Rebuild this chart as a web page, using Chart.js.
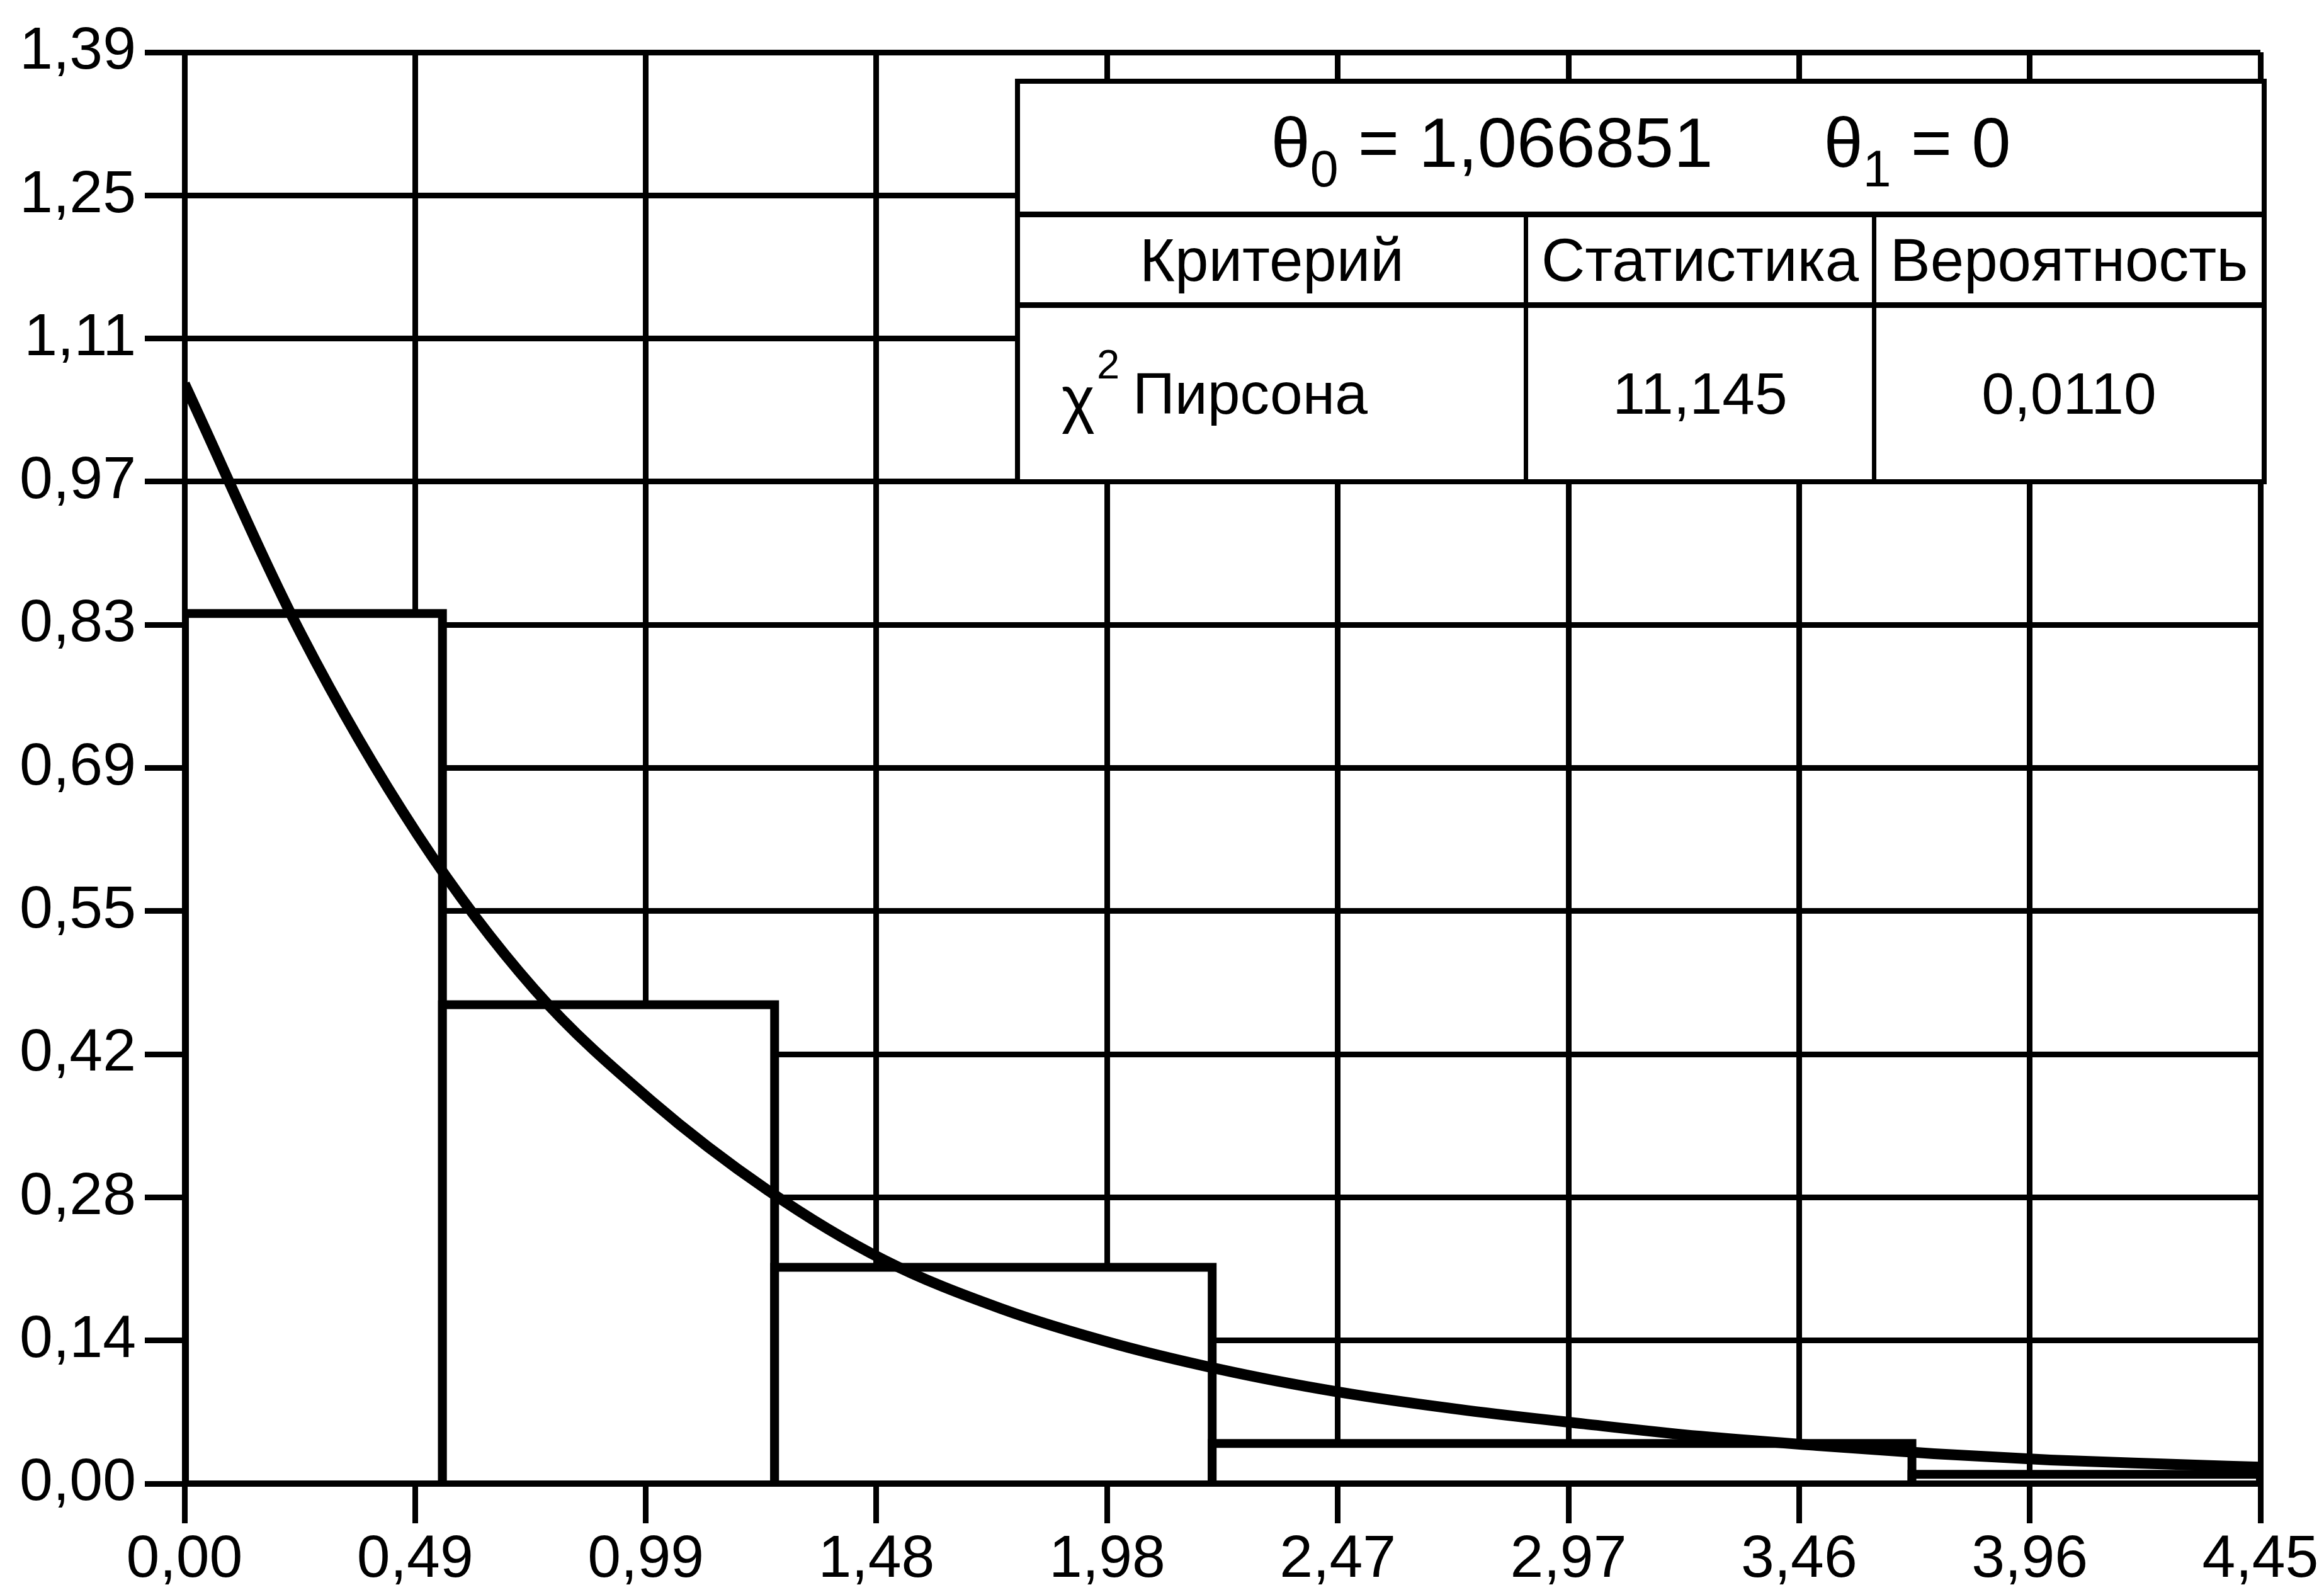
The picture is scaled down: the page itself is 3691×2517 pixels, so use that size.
<!DOCTYPE html>
<html>
<head>
<meta charset="utf-8">
<script src="https://cdn.jsdelivr.net/npm/chart.js@4.4.0/dist/chart.umd.min.js"></script>
<style>
  html, body { margin: 0; padding: 0; background: #fff; }
  #wrap { position: relative; width: 3691px; height: 2517px; }
  #chart { position: absolute; left: 0; top: 0; }
  /* stats box in the upper right corner */
  #stats {
    position: absolute; left: 1612px; top: 125px;
    width: 1988px; height: 644px; box-sizing: border-box;
    padding: 8px; background: #000;
    display: grid; column-gap: 7px; row-gap: 9px;
    grid-template-columns: 800px 546px 612px;
    grid-template-rows: 203px 135px 272px;
    font-family: "Liberation Sans", Arial, sans-serif; color: #000;
  }
  #stats div { background: #fff; display: flex; align-items: center; justify-content: center; white-space: nowrap; }
  #stats .title { grid-column: 1 / 4; font-size: 112px; padding-bottom: 16px; box-sizing: border-box; }
  #stats .head { font-size: 96px; }
  #stats .cell { font-size: 93px; }
  #stats .left { justify-content: flex-start; padding-left: 66px; }
  #stats sub { font-size: 0.72em; vertical-align: baseline; position: relative; top: 0.38em; }
  #stats sup { font-size: 0.7em; vertical-align: baseline; position: relative; top: -0.72em; margin-left: 0.05em; margin-right: 0.32em; }
  #stats .chi { font-size: 1.08em; position: relative; top: 0.08em; }
</style>
</head>
<body>
<div id="wrap">
  <canvas id="chart" width="3691" height="2517"></canvas>
  <div id="stats">
    <div class="title"><span>θ<sub>0</sub> = 1,066851</span><span style="margin-left:176px">θ<sub>1</sub> = 0</span></div>
    <div class="head">Критерий</div>
    <div class="head">Статистика</div>
    <div class="head">Вероятность</div>
    <div class="cell left"><span class="chi">χ</span><sup>2</sup>Пирсона</div>
    <div class="cell">11,145</div>
    <div class="cell">0,0110</div>
  </div>
</div>
<script>
// axis ticks
const xTickValues = [0, 0.4944, 0.9889, 1.4833, 1.9778, 2.4722, 2.9667, 3.4611, 3.9556, 4.45];
const xTickLabels = ['0,00', '0,49', '0,99', '1,48', '1,98', '2,47', '2,97', '3,46', '3,96', '4,45'];
const yTickValues = [0, 0.139, 0.278, 0.417, 0.556, 0.695, 0.834, 0.973, 1.112, 1.251, 1.39];
const yTickLabels = ['0,00', '0,14', '0,28', '0,42', '0,55', '0,69', '0,83', '0,97', '1,11', '1,25', '1,39'];

// histogram: bin edges and heights
const binEdges = [0, 0.553, 1.265, 2.203, 3.703, 4.45];
const binHeights = [0.845, 0.465, 0.210, 0.039, 0.009];

// fitted density curve
const curveX = [0, 0.25, 0.5, 0.75, 1.0, 1.25, 1.5, 1.75, 2.0, 2.25, 2.5, 2.75, 3.0, 3.25, 3.5, 3.75, 4.0, 4.25, 4.45];
const curveY = [1.068, 0.825, 0.630, 0.480, 0.372, 0.285, 0.217, 0.170, 0.135, 0.108, 0.087, 0.071, 0.058, 0.046, 0.037, 0.029, 0.023, 0.019, 0.016];

const FONT = '"Liberation Sans", Arial, sans-serif';

const datasets = [{
    type: 'line',
    data: curveX.map((x, i) => ({ x: x, y: curveY[i] })),
    borderColor: '#000',
    borderWidth: 17,
    pointRadius: 0,
    cubicInterpolationMode: 'monotone',
    fill: false,
    order: 0
}];

// each bin is a white-filled box so it hides the grid behind it
binHeights.forEach((h, i) => {
    const a = binEdges[i], b = binEdges[i + 1];
    datasets.push({
        type: 'line',
        data: [{ x: a, y: 0 }, { x: a, y: h }, { x: b, y: h }, { x: b, y: 0 }],
        borderColor: '#000',
        borderWidth: 14,
        borderJoinStyle: 'miter',
        backgroundColor: '#fff',
        fill: 'origin',
        pointRadius: 0,
        tension: 0,
        order: 10 - i
    });
});

// bottom edge of the boxes along the x axis
datasets.push({
    type: 'line',
    data: [{ x: binEdges[0], y: 0 }, { x: binEdges[binEdges.length - 1], y: 0 }],
    borderColor: '#000',
    borderWidth: 10,
    pointRadius: 0,
    fill: false,
    order: 1
});

new Chart(document.getElementById('chart').getContext('2d'), {
    type: 'line',
    data: { datasets: datasets },
    options: {
        responsive: false,
        animation: false,
        devicePixelRatio: 1,
        events: [],
        layout: { padding: { left: 0, right: 101, top: 83, bottom: 0 } },
        plugins: { legend: { display: false }, tooltip: { enabled: false } },
        scales: {
            x: {
                type: 'linear',
                min: 0, max: 4.45,
                afterBuildTicks: (axis) => { axis.ticks = xTickValues.map(v => ({ value: v })); },
                afterFit: (axis) => { axis.height = 161; },
                ticks: {
                    callback: (v, i) => xTickLabels[i],
                    font: { family: FONT, size: 95 },
                    color: '#000',
                    padding: 2,
                    maxRotation: 0,
                    autoSkip: false
                },
                grid: { color: '#000', lineWidth: 9, tickLength: 63 },
                border: { color: '#000', width: 9 }
            },
            y: {
                type: 'linear',
                min: 0, max: 1.39,
                afterBuildTicks: (axis) => { axis.ticks = yTickValues.map(v => ({ value: v })); },
                afterFit: (axis) => { axis.width = 293; },
                ticks: {
                    callback: (v, i) => yTickLabels[i],
                    font: { family: FONT, size: 95 },
                    color: '#000',
                    padding: 14,
                    autoSkip: false
                },
                grid: { color: '#000', lineWidth: 9, tickLength: 63 },
                border: { color: '#000', width: 9 }
            }
        }
    }
});
</script>
</body>
</html>
